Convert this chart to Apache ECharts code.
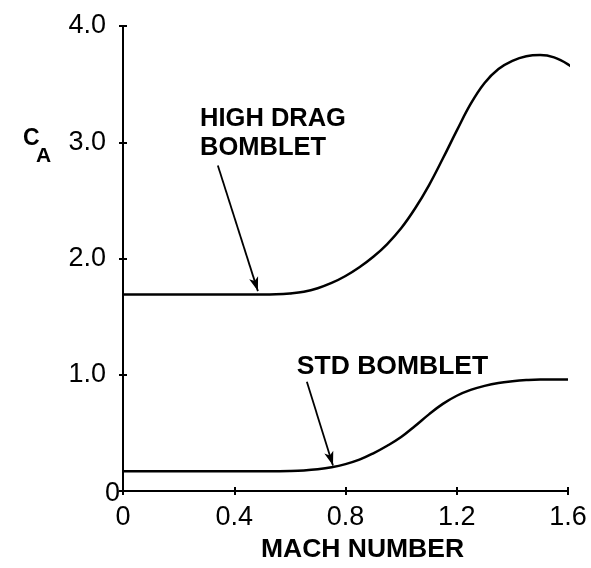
<!DOCTYPE html>
<html>
<head>
<meta charset="utf-8">
<script src="https://cdn.jsdelivr.net/npm/echarts@6/dist/echarts.min.js"></script>
<style>
html,body{margin:0;padding:0;background:#fff;}
#chart{width:591px;height:568px;}
</style>
</head>
<body>
<div id="chart"></div>
<script>
// ---- data ----
const xTicks = [0, 0.4, 0.8, 1.2, 1.6];
const yTicks = [0, 1.0, 2.0, 3.0, 4.0];

const highDragMach = [0, 0.2, 0.4, 0.5, 0.55, 0.6, 0.65, 0.7, 0.75, 0.8, 0.85, 0.9, 0.95, 1.0, 1.05, 1.1, 1.15, 1.2, 1.25, 1.3, 1.35, 1.4, 1.45, 1.5, 1.55, 1.6, 1.63];
const highDragCA   = [1.69, 1.69, 1.69, 1.69, 1.692, 1.70, 1.715, 1.745, 1.79, 1.85, 1.925, 2.015, 2.125, 2.26, 2.43, 2.63, 2.86, 3.10, 3.33, 3.51, 3.63, 3.70, 3.74, 3.75, 3.73, 3.67, 3.61];

const stdMach = [0, 0.2, 0.4, 0.5, 0.55, 0.6, 0.65, 0.7, 0.75, 0.8, 0.85, 0.9, 0.95, 1.0, 1.05, 1.1, 1.15, 1.2, 1.25, 1.3, 1.35, 1.4, 1.45, 1.5, 1.55, 1.6];
const stdCA   = [0.17, 0.17, 0.17, 0.17, 0.171, 0.173, 0.178, 0.188, 0.205, 0.232, 0.27, 0.325, 0.39, 0.465, 0.56, 0.66, 0.75, 0.82, 0.87, 0.905, 0.93, 0.945, 0.955, 0.96, 0.96, 0.96];

const highDragLabel = ['HIGH DRAG', 'BOMBLET'];
const stdLabel = 'STD BOMBLET';
const xName = 'MACH NUMBER';

// annotation anchors (data coordinates)
const highDragTextAt = [0.277, 3.08];
const highDragArrow = [[0.341, 2.80], [0.485, 1.72]];
const stdTextAt = [0.625, 1.07];
const stdArrow = [[0.661, 0.94], [0.755, 0.22]];

const zip = (a, b) => a.map((v, i) => [v, b[i]]);
const FONT = 'Liberation Sans';

const chart = echarts.init(document.getElementById('chart'));

const axisCommonX = { type: 'value', min: 0, max: 1.6, interval: 0.4 };
const axisCommonY = { type: 'value', min: 0, max: 4, interval: 1 };

chart.setOption({
  backgroundColor: '#fff',
  animation: false,
  grid: { left: 123, right: 23, top: 26, bottom: 70 },
  xAxis: [
    Object.assign({}, axisCommonX, {
      position: 'bottom',
      axisLine: { show: true, lineStyle: { color: '#000', width: 2 } },
      axisTick: { show: true, length: 4, lineStyle: { color: '#000', width: 2 } },
      splitLine: { show: false },
      axisLabel: {
        color: '#000', fontFamily: FONT, fontSize: 27, margin: 13,
        formatter: v => (v === 0 ? '0' : v.toFixed(1))
      },
      name: xName, nameLocation: 'middle', nameGap: 42,
      nameTextStyle: { color: '#000', fontFamily: FONT, fontSize: 26.5, fontWeight: 'bold', padding: [0, 0, 0, 34] }
    }),
    Object.assign({}, axisCommonX, {
      position: 'bottom',
      axisLine: { show: false },
      axisTick: { show: true, inside: true, length: 4, lineStyle: { color: '#000', width: 2 } },
      axisLabel: { show: false },
      splitLine: { show: false }
    })
  ],
  yAxis: [
    Object.assign({}, axisCommonY, {
      position: 'left',
      axisLine: { show: true, lineStyle: { color: '#000', width: 2 } },
      axisTick: { show: true, length: 4, lineStyle: { color: '#000', width: 2 } },
      splitLine: { show: false },
      axisLabel: {
        color: '#000', margin: 3,
        formatter: v => (v === 0 ? '{z|0}' : '{n|' + v.toFixed(1) + '}'),
        rich: {
          z: { fontFamily: FONT, fontSize: 27, color: '#000', padding: [4, 0, 0, 0] },
          n: { fontFamily: FONT, fontSize: 27, color: '#000', padding: [0, 14, 0, 0] }
        }
      }
    }),
    Object.assign({}, axisCommonY, {
      position: 'left',
      axisLine: { show: false },
      axisTick: { show: true, inside: true, length: 4, lineStyle: { color: '#000', width: 2 } },
      axisLabel: { show: false },
      splitLine: { show: false }
    })
  ],
  graphic: [
    { type: 'text', left: 23, top: 127, style: { text: 'C', font: 'bold 23px "Liberation Sans"', fill: '#000' } },
    { type: 'text', left: 36, top: 146, style: { text: 'A', font: 'bold 21px "Liberation Sans"', fill: '#000' } }
  ],
  series: [
    {
      name: 'HIGH DRAG BOMBLET', type: 'line', xAxisIndex: 0, yAxisIndex: 0,
      data: zip(highDragMach, highDragCA), smooth: 0.4, showSymbol: false, clip: false,
      lineStyle: { color: '#000', width: 2.5 },
      markPoint: {
        symbol: 'circle', symbolSize: 0,
        label: {
          show: true, position: 'right', distance: 0, color: '#000',
          fontFamily: FONT, fontSize: 25.5, fontWeight: 'bold', lineHeight: 29, align: 'left'
        },
        data: [{ coord: highDragTextAt, value: highDragLabel.join('\n') }]
      },
      markLine: {
        silent: true, symbol: ['none', 'arrow'], symbolSize: [7, 14],
        lineStyle: { color: '#000', width: 1.8, type: 'solid' },
        label: { show: false },
        data: [[{ coord: highDragArrow[0] }, { coord: highDragArrow[1] }]]
      }
    },
    {
      name: 'STD BOMBLET', type: 'line', xAxisIndex: 0, yAxisIndex: 0,
      data: zip(stdMach, stdCA), smooth: 0.4, showSymbol: false, clip: false,
      lineStyle: { color: '#000', width: 2.5 },
      markPoint: {
        symbol: 'circle', symbolSize: 0,
        label: {
          show: true, position: 'right', distance: 0, color: '#000',
          fontFamily: FONT, fontSize: 26.5, fontWeight: 'bold', align: 'left'
        },
        data: [{ coord: stdTextAt, value: stdLabel }]
      },
      markLine: {
        silent: true, symbol: ['none', 'arrow'], symbolSize: [7, 14],
        lineStyle: { color: '#000', width: 1.8, type: 'solid' },
        label: { show: false },
        data: [[{ coord: stdArrow[0] }, { coord: stdArrow[1] }]]
      }
    }
  ]
});
</script>
</body>
</html>
